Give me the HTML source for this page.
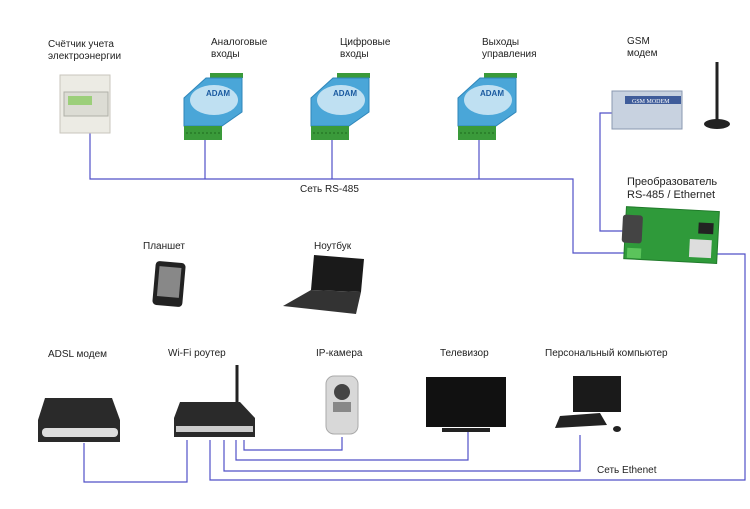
<!DOCTYPE html>
<html><head><meta charset="utf-8"><style>
html,body{margin:0;padding:0;background:#fff;}
svg{display:block;}
text{font-family:"Liberation Sans",sans-serif;font-size:10px;fill:#222;}
</style></head><body>
<svg width="750" height="509" viewBox="0 0 750 509" xmlns="http://www.w3.org/2000/svg">
<defs>
<g id="adam">
  <polygon points="210,73 243,73 243,78 210,78" fill="#3a9a3a"/>
  <polygon points="206,78 242,78 242,112 222,126 184,126 184,98" fill="#4aa6d8" stroke="#2f86ba" stroke-width="1"/>
  <ellipse cx="214" cy="100" rx="24" ry="15" fill="#bfe0f2"/>
  <text x="206" y="96" style="font-size:8px;font-weight:bold;fill:#1a5aa0">ADAM</text>
  <polygon points="184,126 222,126 222,140 184,140" fill="#3a9a3a"/>
  <line x1="186" y1="133" x2="220" y2="133" stroke="#1f6a1f" stroke-dasharray="2,2"/>
</g>
</defs>
<!-- labels -->
<text x="48" y="47">Счётчик учета</text>
<text x="48" y="59">электроэнергии</text>
<text x="211" y="45">Аналоговые</text>
<text x="211" y="57">входы</text>
<text x="340" y="45">Цифровые</text>
<text x="340" y="57">входы</text>
<text x="482" y="45">Выходы</text>
<text x="482" y="57">управления</text>
<text x="627" y="44">GSM</text>
<text x="627" y="56">модем</text>
<text x="300" y="192">Сеть RS-485</text>
<text x="627" y="185" style="font-size:11px">Преобразователь</text>
<text x="627" y="198" style="font-size:11px">RS-485 / Ethernet</text>
<text x="143" y="249">Планшет</text>
<text x="314" y="249">Ноутбук</text>
<text x="48" y="357">ADSL модем</text>
<text x="168" y="356">Wi-Fi роутер</text>
<text x="316" y="356">IP-камера</text>
<text x="440" y="356">Телевизор</text>
<text x="545" y="356">Персональный компьютер</text>
<text x="597" y="473">Сеть Ethenet</text>

<!-- lines -->
<g fill="none" stroke="#5050c8" stroke-width="1.2">
<polyline points="90,133 90,179 573,179 573,253 625,253"/>
<line x1="205" y1="140" x2="205" y2="179"/>
<line x1="332" y1="140" x2="332" y2="179"/>
<line x1="479" y1="140" x2="479" y2="179"/>
<polyline points="612,113 600,113 600,231 625,231"/>
<polyline points="715,254 745,254 745,480 210,480 210,440"/>
<polyline points="84,443 84,482 187,482 187,440"/>
<polyline points="224,440 224,471 580,471 580,435"/>
<polyline points="236,440 236,460 468,460 468,432"/>
<polyline points="244,440 244,450 342,450 342,437"/>
</g>

<!-- meter -->
<rect x="60" y="75" width="50" height="58" fill="#ecebe4" stroke="#c8c6bc"/>
<rect x="64" y="92" width="44" height="24" fill="#dcdcd4" stroke="#b0b0a8"/>
<rect x="68" y="96" width="24" height="9" fill="#9ccf7a"/>

<!-- adam modules -->
<use href="#adam"/>
<use href="#adam" x="127"/>
<use href="#adam" x="274"/>

<!-- GSM modem -->
<rect x="612" y="91" width="70" height="38" fill="#c8d2e0" stroke="#8a98b0"/>
<rect x="625" y="96" width="56" height="8" fill="#3f5c9a"/>
<text x="632" y="103" style="font-size:6px;fill:#fff;font-family:'Liberation Serif',serif">GSM MODEM</text>
<line x1="717" y1="62" x2="717" y2="120" stroke="#222" stroke-width="3"/>
<ellipse cx="717" cy="124" rx="13" ry="5" fill="#222"/>

<!-- converter -->
<g transform="rotate(3 670 236)">
<rect x="625" y="209" width="93" height="52" fill="#2f9a3a" stroke="#207a2a"/>
<rect x="622" y="217" width="20" height="28" fill="#444" rx="3"/>
<rect x="690" y="238" width="22" height="18" fill="#ddd"/>
<rect x="698" y="221" width="15" height="11" fill="#222"/>
<rect x="628" y="250" width="14" height="10" fill="#5bc45b"/>
</g>

<!-- tablet -->
<rect x="154" y="262" width="30" height="44" rx="4" fill="#222" transform="rotate(5 169 284)"/>
<rect x="158" y="267" width="22" height="30" fill="#888" transform="rotate(5 169 284)"/>

<!-- laptop -->
<polygon points="314,255 364,259 361,292 311,290" fill="#1a1a1a"/>
<polygon points="311,290 361,292 356,314 283,306" fill="#333"/>

<!-- ADSL modem -->
<polygon points="45,398 112,398 120,420 120,442 38,442 38,420" fill="#2a2a2a"/>
<rect x="42" y="428" width="76" height="9" rx="4" fill="#ddd"/>

<!-- router -->
<line x1="237" y1="365" x2="237" y2="405" stroke="#222" stroke-width="3"/>
<polygon points="180,402 240,402 255,418 255,437 174,437 174,418" fill="#2a2a2a"/>
<rect x="176" y="426" width="77" height="6" fill="#ccc"/>

<!-- IP camera -->
<rect x="326" y="376" width="32" height="58" rx="8" fill="#d8d8d8" stroke="#aaa"/>
<circle cx="342" cy="392" r="8" fill="#444"/>
<rect x="333" y="402" width="18" height="10" fill="#888"/>

<!-- TV -->
<rect x="426" y="377" width="80" height="50" fill="#111"/>
<rect x="442" y="428" width="48" height="4" fill="#222"/>

<!-- PC -->
<rect x="573" y="376" width="48" height="36" fill="#1a1a1a"/>
<polygon points="560,416 600,413 607,425 555,428" fill="#222"/>
<ellipse cx="617" cy="429" rx="4" ry="3" fill="#222"/>
</svg>
</body></html>
